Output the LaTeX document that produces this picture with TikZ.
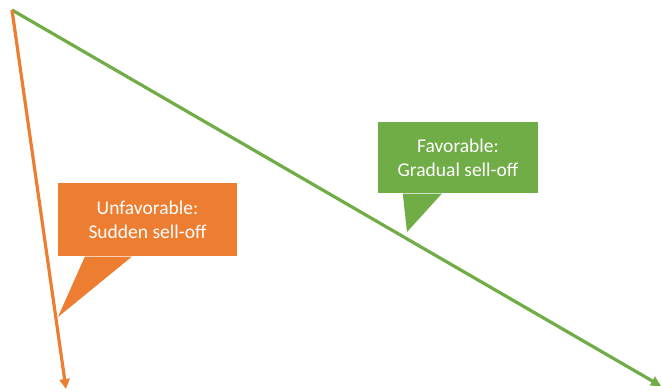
\documentclass[tikz,border=0pt]{standalone}
\usepackage{fontspec}
\setmainfont{Carlito}
\usetikzlibrary{arrows.meta,calc}
\definecolor{offorange}{HTML}{ED7D31}
\definecolor{offgreen}{HTML}{70AD47}
\tikzset{
  trend/.style={line width=3.2pt,-{Triangle[length=10pt,width=10pt]}},
  callbox/.style={rectangle,inner sep=0pt,text=white,align=center,font=\fontsize{19.5}{24}\selectfont},
}
\begin{document}
\begin{tikzpicture}[x=1pt,y=-1pt]
\useasboundingbox (0,0) rectangle (661,391);
\coordinate (s) at (12,10);
\coordinate (ge) at (661,386);
\coordinate (oe) at (66,389);
\coordinate (otip) at (58,317);
\coordinate (gtip) at (407,232);
% callouts
\node[callbox,fill=offorange,minimum width=179pt,minimum height=73pt] (ob) at (147.5,219.5) {Unfavorable:\\Sudden sell-off};
\fill[offorange] ($(ob.south west)+(27,0.5)$) -- (otip) -- ($(ob.south west)+(74,0.5)$) -- cycle;
\node[callbox,fill=offgreen,minimum width=160pt,minimum height=71pt] (gb) at (458,157.5) {Favorable:\\Gradual sell-off};
\fill[offgreen] ($(gb.south west)+(25,0.5)$) -- (gtip) -- ($(gb.south west)+(64,0.5)$) -- cycle;
% lines
\draw[trend,offgreen] (s) -- (ge);
\draw[trend,offorange] (s) -- (oe);
\end{tikzpicture}
\end{document}
